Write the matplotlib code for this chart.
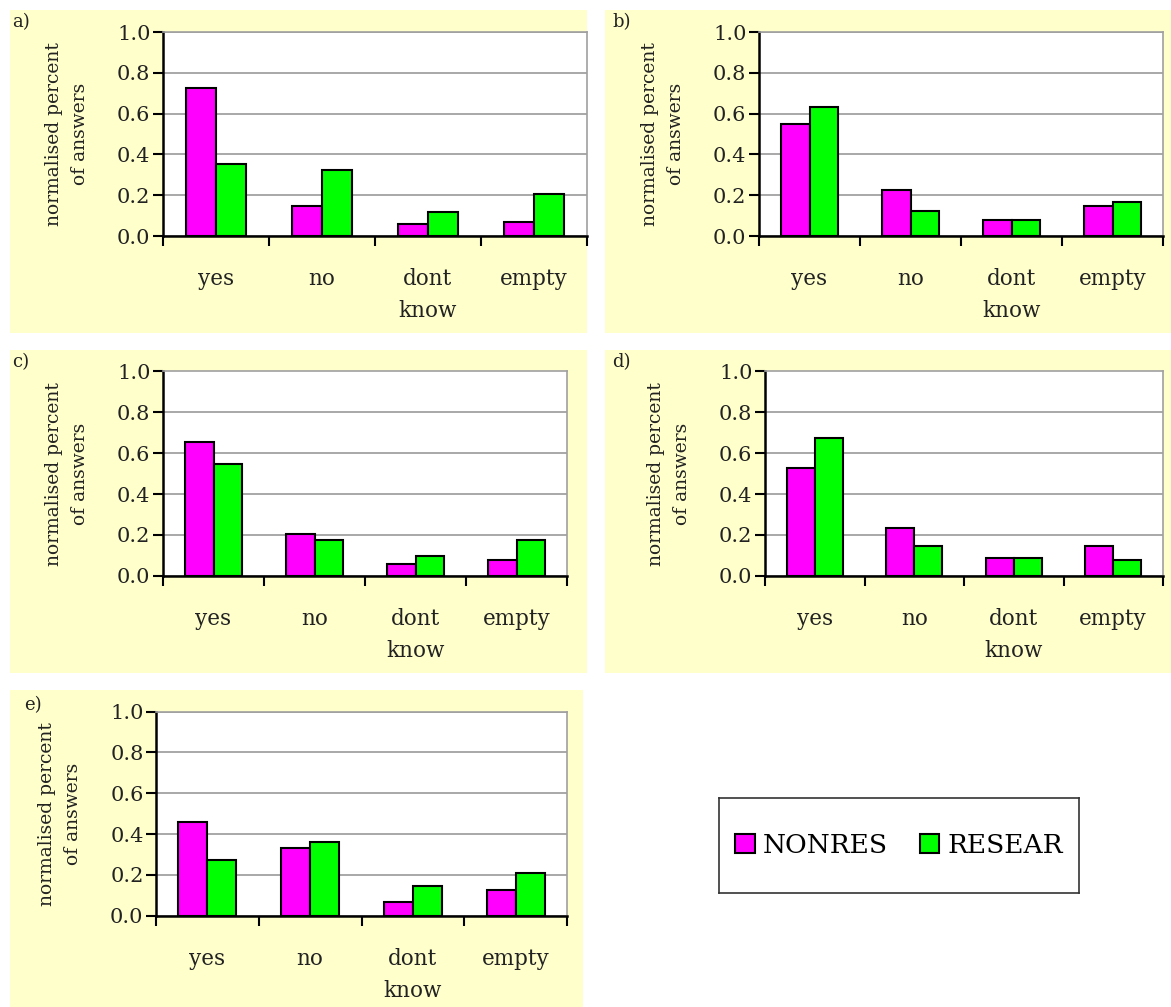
import matplotlib.pyplot as plt
import numpy as np
from matplotlib.patches import Rectangle

plt.rcParams['font.family'] = ['DejaVu Serif']

categories = ["yes", "no", "dont\nknow", "empty"]
series_names = ["NONRES", "RESEAR"]
colors = ["#FF00FF", "#00FF00"]

panel_labels = ["a)", "b)", "c)", "d)", "e)"]
nonres = [
    [0.725, 0.147, 0.059, 0.068],
    [0.547, 0.224, 0.077, 0.147],
    [0.653, 0.202, 0.057, 0.075],
    [0.526, 0.232, 0.085, 0.145],
    [0.460, 0.330, 0.065, 0.124],
]
resear = [
    [0.353, 0.322, 0.117, 0.206],
    [0.633, 0.124, 0.077, 0.165],
    [0.545, 0.173, 0.096, 0.173],
    [0.672, 0.145, 0.085, 0.075],
    [0.273, 0.359, 0.145, 0.210],
]

W, H = 1171, 1007
fig = plt.figure(figsize=(W / 100, H / 100), dpi=100)

# pixel boxes: (left, top, right, bottom)
backgrounds = [(10, 10, 587, 333), (605, 10, 1171, 333),
               (10, 350, 587, 673), (605, 350, 1171, 673),
               (10, 690, 583, 1007)]
plot_boxes = [(163, 32, 587, 236), (759, 32, 1163, 236),
              (163, 371.5, 567, 575.7), (765, 371.5, 1163, 575.7),
              (156, 711.5, 567, 915.7)]
label_pos = [(12, 22), (612, 22), (12, 362), (612, 362), (24, 705)]


def fx(x):
    return x / W


def fy(y):
    return 1 - y / H


for bg in backgrounds:
    l, t, r, b = bg
    fig.add_artist(Rectangle((fx(l), fy(b)), fx(r) - fx(l), fy(t) - fy(b),
                             transform=fig.transFigure, facecolor="#FFFFCC",
                             edgecolor="none", zorder=0))

x = np.arange(len(categories))
bw = 0.283
bars = None
for i, (l, t, r, b) in enumerate(plot_boxes):
    ax = fig.add_axes([fx(l), fy(b), fx(r) - fx(l), fy(t) - fy(b)])
    ax.set_facecolor("white")
    b1 = ax.bar(x - bw / 2, nonres[i], bw, color=colors[0], edgecolor="black",
                linewidth=1.5, zorder=3, label=series_names[0])
    b2 = ax.bar(x + bw / 2, resear[i], bw, color=colors[1], edgecolor="black",
                linewidth=1.5, zorder=3, label=series_names[1])
    bars = (b1, b2)
    ax.set_xlim(-0.5, len(categories) - 0.5)
    ax.set_ylim(0, 1.0)
    ax.set_yticks(np.arange(0, 1.01, 0.2))
    ax.set_yticklabels(["%.1f" % v for v in np.arange(0, 1.01, 0.2)],
                       fontsize=15, color="#222222")
    ax.yaxis.grid(True, color="#999999", linewidth=1.2, zorder=0)
    ax.set_xticks(np.arange(len(categories) + 1) - 0.5)
    ax.set_xticklabels([])
    ax.set_xticks(x, categories, minor=True, fontsize=15.5, linespacing=1.6,
                  color="#222222")
    ax.tick_params(axis='x', which='major', length=7, width=1.5, direction='out')
    ax.tick_params(axis='x', which='minor', length=0, pad=23)
    ax.tick_params(axis='y', length=7, width=1.5, pad=2)
    for s in ("left", "bottom"):
        ax.spines[s].set_color("black")
        ax.spines[s].set_linewidth(1.8)
    for s in ("top", "right"):
        ax.spines[s].set_color("#A0A0A0")
        ax.spines[s].set_linewidth(1.2)
    ax.set_axisbelow(True)

    fig.text(fx(l - 96), fy((t + b) / 2), "normalised percent\nof answers",
             rotation=90, ha="center", va="center", fontsize=13.5,
             linespacing=1.6, color="#222222")
    px, py = label_pos[i]
    fig.text(fx(px), fy(py), panel_labels[i], ha="left", va="center",
             fontsize=13, color="#222222")

# legend box
lax = fig.add_axes([fx(719), fy(893), fx(1079) - fx(719), fy(798) - fy(893)])
lax.set_xticks([])
lax.set_yticks([])
for s in lax.spines.values():
    s.set_color("#333333")
    s.set_linewidth(1.2)
lax.legend(bars, series_names, loc="center", ncol=2, frameon=False,
           fontsize=19, handlelength=0.75, handleheight=0.75,
           handletextpad=0.3, columnspacing=1.2)

fig.savefig("out.png", dpi=100)
